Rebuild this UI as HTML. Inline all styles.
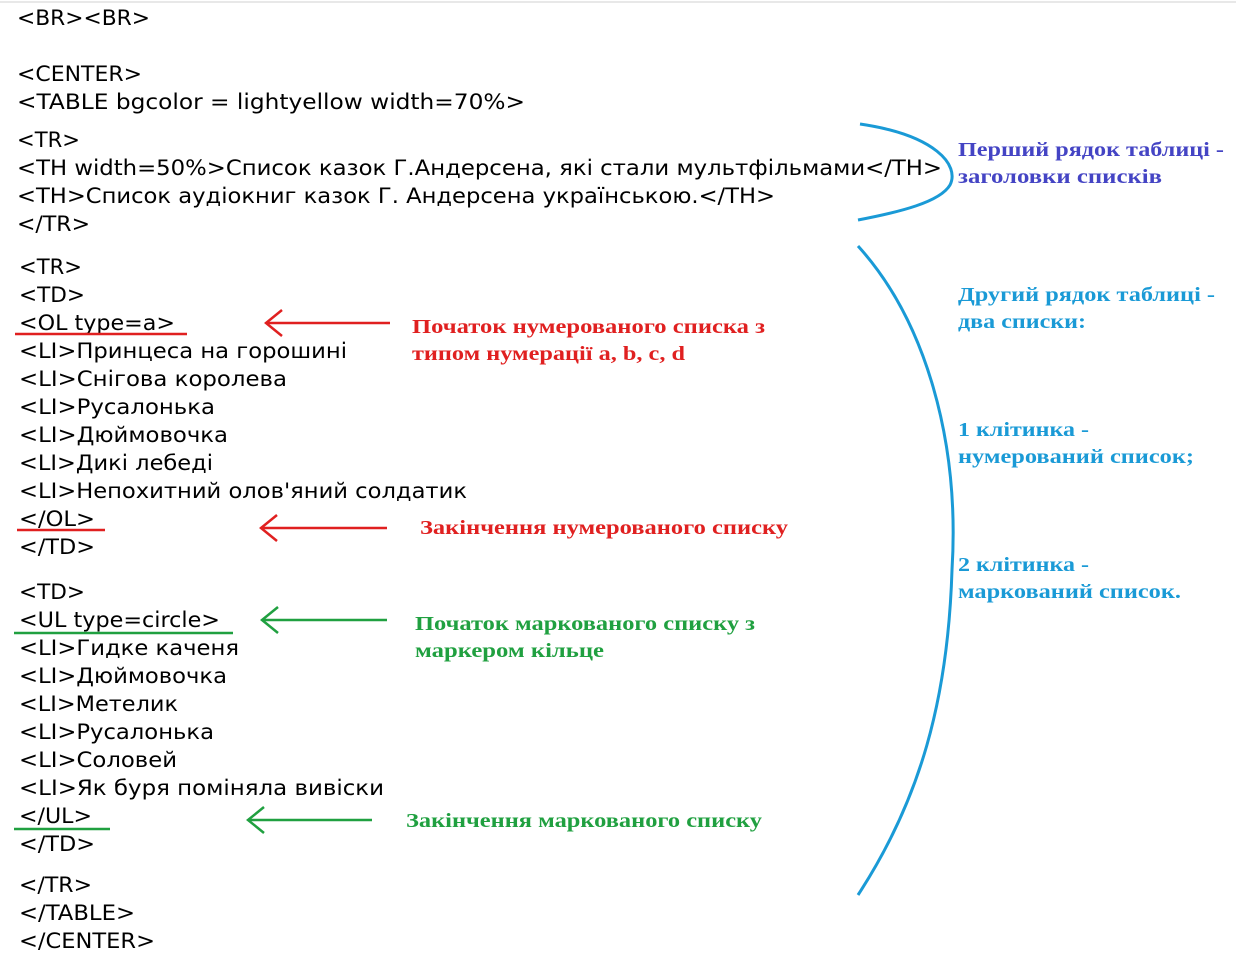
<!DOCTYPE html>
<html><head><meta charset="utf-8"><style>
html,body{margin:0;padding:0;background:#fff;}
svg{display:block;}
.c{font-family:"DejaVu Sans","Liberation Sans",sans-serif;font-size:21px;fill:#000;}
.a{font-family:"Liberation Serif",serif;font-weight:bold;font-size:20px;}
</style></head><body>
<svg width="1236" height="967" viewBox="0 0 1236 967" xmlns="http://www.w3.org/2000/svg">
<line x1="0" y1="2" x2="1236" y2="2" stroke="#e8e8e8" stroke-width="2"/>
<g class="c" lengthAdjust="spacingAndGlyphs">
<text x="17" y="25" textLength="133" lengthAdjust="spacingAndGlyphs">&lt;BR&gt;&lt;BR&gt;</text>
<text x="17" y="81" textLength="125" lengthAdjust="spacingAndGlyphs">&lt;CENTER&gt;</text>
<text x="17" y="109" textLength="508" lengthAdjust="spacingAndGlyphs">&lt;TABLE  bgcolor = lightyellow width=70%&gt;</text>
<text x="17" y="147" textLength="63" lengthAdjust="spacingAndGlyphs">&lt;TR&gt;</text>
<text x="17" y="175" textLength="925" lengthAdjust="spacingAndGlyphs">&lt;TH width=50%&gt;Список казок Г.Андерсена, які стали мультфільмами&lt;/TH&gt;</text>
<text x="17" y="203" textLength="758" lengthAdjust="spacingAndGlyphs">&lt;TH&gt;Список аудіокниг казок Г. Андерсена українською.&lt;/TH&gt;</text>
<text x="17" y="231" textLength="73" lengthAdjust="spacingAndGlyphs">&lt;/TR&gt;</text>
<text x="19" y="274" textLength="63" lengthAdjust="spacingAndGlyphs">&lt;TR&gt;</text>
<text x="19" y="302" textLength="66" lengthAdjust="spacingAndGlyphs">&lt;TD&gt;</text>
<text x="19" y="330" textLength="156" lengthAdjust="spacingAndGlyphs">&lt;OL type=a&gt;</text>
<text x="19" y="358" textLength="328" lengthAdjust="spacingAndGlyphs">&lt;LI&gt;Принцеса на горошині</text>
<text x="19" y="386" textLength="268" lengthAdjust="spacingAndGlyphs">&lt;LI&gt;Снігова королева</text>
<text x="19" y="414" textLength="196" lengthAdjust="spacingAndGlyphs">&lt;LI&gt;Русалонька</text>
<text x="19" y="442" textLength="209" lengthAdjust="spacingAndGlyphs">&lt;LI&gt;Дюймовочка</text>
<text x="19" y="470" textLength="194" lengthAdjust="spacingAndGlyphs">&lt;LI&gt;Дикі лебеді</text>
<text x="19" y="498" textLength="448" lengthAdjust="spacingAndGlyphs">&lt;LI&gt;Непохитний олов'яний солдатик</text>
<text x="19" y="526" textLength="76" lengthAdjust="spacingAndGlyphs">&lt;/OL&gt;</text>
<text x="19" y="554" textLength="76" lengthAdjust="spacingAndGlyphs">&lt;/TD&gt;</text>
<text x="19" y="599" textLength="66" lengthAdjust="spacingAndGlyphs">&lt;TD&gt;</text>
<text x="19" y="627" textLength="201" lengthAdjust="spacingAndGlyphs">&lt;UL type=circle&gt;</text>
<text x="19" y="655" textLength="220" lengthAdjust="spacingAndGlyphs">&lt;LI&gt;Гидке каченя</text>
<text x="19" y="683" textLength="208" lengthAdjust="spacingAndGlyphs">&lt;LI&gt;Дюймовочка</text>
<text x="19" y="711" textLength="159" lengthAdjust="spacingAndGlyphs">&lt;LI&gt;Метелик</text>
<text x="19" y="739" textLength="195" lengthAdjust="spacingAndGlyphs">&lt;LI&gt;Русалонька</text>
<text x="19" y="767" textLength="158" lengthAdjust="spacingAndGlyphs">&lt;LI&gt;Соловей</text>
<text x="19" y="795" textLength="365" lengthAdjust="spacingAndGlyphs">&lt;LI&gt;Як буря поміняла вивіски</text>
<text x="19" y="823" textLength="73" lengthAdjust="spacingAndGlyphs">&lt;/UL&gt;</text>
<text x="19" y="851" textLength="76" lengthAdjust="spacingAndGlyphs">&lt;/TD&gt;</text>
<text x="19" y="892" textLength="73" lengthAdjust="spacingAndGlyphs">&lt;/TR&gt;</text>
<text x="19" y="920" textLength="116" lengthAdjust="spacingAndGlyphs">&lt;/TABLE&gt;</text>
<text x="19" y="948" textLength="136" lengthAdjust="spacingAndGlyphs">&lt;/CENTER&gt;</text>
</g>
<!-- underlines -->
<g stroke-width="2.5" fill="none">
<line x1="15" y1="334" x2="187" y2="334" stroke="#e02020"/>
<line x1="17" y1="530" x2="105" y2="530" stroke="#e02020"/>
<line x1="14" y1="633" x2="233" y2="633" stroke="#20a040"/>
<line x1="14" y1="829" x2="110" y2="829" stroke="#20a040"/>
<!-- arrows -->
<g stroke="#e02020">
<line x1="390" y1="323" x2="266" y2="323"/><polyline points="282,310 266,323 282,336"/>
<line x1="387" y1="528" x2="261" y2="528"/><polyline points="277,515 261,528 277,541"/>
</g>
<g stroke="#20a040">
<line x1="387" y1="620" x2="262" y2="620"/><polyline points="278,607 262,620 278,633"/>
<line x1="372" y1="820" x2="248" y2="820"/><polyline points="264,807 248,820 264,833"/>
</g>
<!-- blue brackets -->
<g stroke="#1a9ad6" stroke-width="3">
<path d="M860,124 C935,135 960,165 950,185 C940,202 900,212 858,220"/>
<path d="M858,246 C925,320 960,440 952,570 C948,700 920,800 858,895"/>
</g>
</g>
<g class="a">
<text x="958" y="156" fill="#4444c4" textLength="266" lengthAdjust="spacingAndGlyphs">Перший рядок таблиці -</text>
<text x="958" y="183" fill="#4444c4" textLength="204" lengthAdjust="spacingAndGlyphs">заголовки списків</text>
<text x="958" y="301" fill="#1a9ad6" textLength="257" lengthAdjust="spacingAndGlyphs">Другий рядок таблиці -</text>
<text x="958" y="328" fill="#1a9ad6" textLength="128" lengthAdjust="spacingAndGlyphs">два списки:</text>
<text x="958" y="436" fill="#1a9ad6" textLength="131" lengthAdjust="spacingAndGlyphs">1 клітинка -</text>
<text x="958" y="463" fill="#1a9ad6" textLength="236" lengthAdjust="spacingAndGlyphs">нумерований список;</text>
<text x="958" y="571" fill="#1a9ad6" textLength="131" lengthAdjust="spacingAndGlyphs">2 клітинка -</text>
<text x="958" y="598" fill="#1a9ad6" textLength="223" lengthAdjust="spacingAndGlyphs">маркований список.</text>
<text x="412" y="333" fill="#e02020" textLength="353" lengthAdjust="spacingAndGlyphs">Початок нумерованого списка з</text>
<text x="412" y="360" fill="#e02020" textLength="273" lengthAdjust="spacingAndGlyphs">типом нумерації  a, b, c, d</text>
<text x="420" y="534" fill="#e02020" textLength="368" lengthAdjust="spacingAndGlyphs">Закінчення нумерованого списку</text>
<text x="415" y="630" fill="#20a040" textLength="340" lengthAdjust="spacingAndGlyphs">Початок маркованого списку з</text>
<text x="415" y="657" fill="#20a040" textLength="189" lengthAdjust="spacingAndGlyphs">маркером кільце</text>
<text x="406" y="827" fill="#20a040" textLength="356" lengthAdjust="spacingAndGlyphs">Закінчення маркованого списку</text>
</g>
</svg>
</body></html>
